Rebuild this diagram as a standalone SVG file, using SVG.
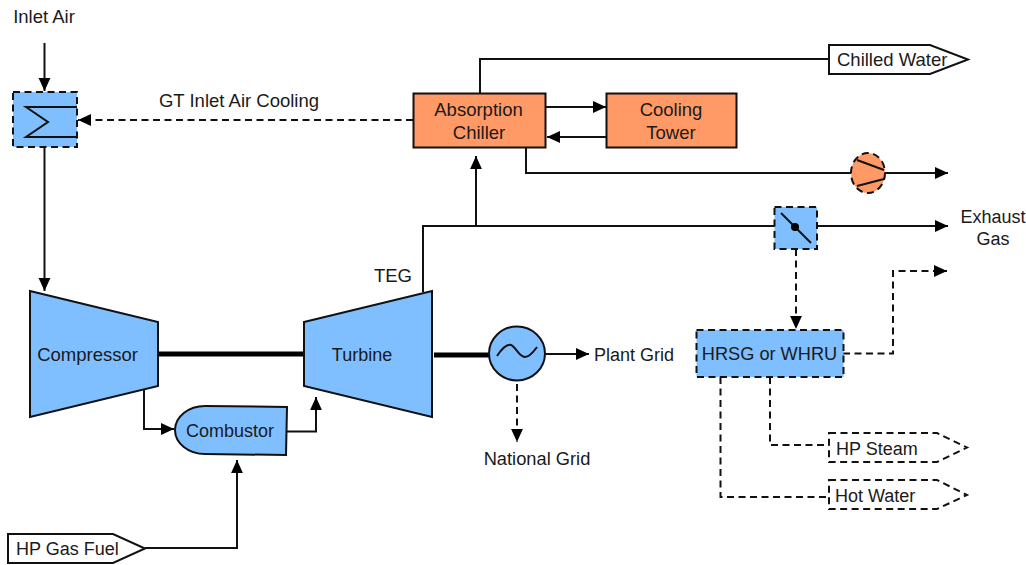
<svg xmlns="http://www.w3.org/2000/svg" width="1026" height="565" viewBox="0 0 1026 565">
<style>
text{font-family:"Liberation Sans",Arial,sans-serif;font-size:18px;fill:#1a1a1a;text-anchor:middle}
.s{text-anchor:start}
text.g{font-size:18.500px}
.b{fill:#7fbfff;stroke:#111;stroke-width:2}
.o{fill:#ff9966;stroke:#111;stroke-width:2}
.w{fill:#fff;stroke:#111;stroke-width:2}
.d{stroke-dasharray:7 4.500}
.l{fill:none;stroke:#111;stroke-width:2}
.m{fill:none;stroke:#111;stroke-width:2;marker-end:url(#a)}
.sh{fill:none;stroke:#000;stroke-width:5}
</style>
<defs><marker id="a" markerUnits="userSpaceOnUse" markerWidth="13" markerHeight="13" viewBox="0 0 11 10" refX="11" refY="5" orient="auto"><path d="M0 0L11 5L0 10Z" fill="#000"/></marker></defs>
<rect width="1026" height="565" fill="#fff"/>
<g id="connectors">
<path class="m" d="M44.500 43V91"/>
<path class="m" d="M44.500 148V291"/>
<path class="m d" d="M413 120H78"/>
<path class="l" d="M480 93V59H829"/>
<path class="m" d="M546 107H606"/>
<path class="m" d="M606 137H547"/>
<path class="m" d="M526 148V173H948"/>
<path class="m" d="M423 292V226H948"/>
<path class="m" d="M476 226V156"/>
<path class="m d" d="M796 249V329"/>
<path class="m d" d="M843 353.500H893V271H947"/>
<path class="l d" d="M770 377V445H829"/>
<path class="l d" d="M720.500 377V497H829"/>
<path class="sh" d="M159 354H304"/>
<path class="sh" d="M434 355H490"/>
<path class="m" d="M545 354H589"/>
<path class="m d" d="M517 384V442"/>
<path class="m" d="M144 390V429H174"/>
<path class="m" d="M287 431.500H316V397"/>
<path class="m" d="M145 548H237V460"/>
</g>
<g id="inlet-air"><text class="g" x="44" y="23">Inlet Air</text></g>
<g id="cooling-label"><text class="g" x="239" y="107">GT Inlet Air Cooling</text></g>
<g id="inlet-cooler"><rect class="b d" x="13" y="92" width="64" height="55"/><path class="l" d="M77 107H26L48 122L26 137H77"/></g>
<g id="chiller"><rect class="o" x="413.500" y="93.500" width="132" height="54"/><text class="g" x="478.500" y="116">Absorption</text><text class="g" x="479" y="139">Chiller</text></g>
<g id="tower"><rect class="o" x="606.500" y="93.500" width="130" height="54"/><text class="g" x="671" y="116">Cooling</text><text class="g" x="671" y="139">Tower</text></g>
<g id="chilled-water"><path class="w" d="M829 45H930L968 59.500L930 74H829Z"/><text class="s g" x="837" y="66">Chilled Water</text></g>
<g id="pump"><ellipse class="o d" cx="868" cy="173" rx="17" ry="20"/><path class="l" d="M857 160L884 170M857 186L884 179"/></g>
<g id="damper"><rect class="b d" x="774.500" y="207" width="42.500" height="42"/><path class="l" d="M781 213L811 243"/><circle cx="795" cy="227" r="4" fill="#000"/></g>
<g id="exhaust"><text x="993" y="223">Exhaust</text><text x="993" y="245">Gas</text></g>
<g id="compressor"><path class="b" d="M30 291L158 322V386L30 417Z"/><text class="g" x="87.500" y="361">Compressor</text></g>
<g id="turbine"><path class="b" d="M304 322L432 291V417L304 386Z"/><text x="362" y="361">Turbine</text></g>
<g id="teg"><text class="g" x="393" y="282">TEG</text></g>
<g id="combustor"><path class="b" d="M287 407L205 406A30 24 0 0 0 205 454L286 455Z"/><text x="230" y="437">Combustor</text></g>
<g id="generator"><ellipse class="b" cx="517" cy="353.500" rx="28" ry="27"/><path class="l" d="M497 356C503 347 507 344 511 345C516 347 519 357 525 357C530 357 534 351 537 347"/></g>
<g id="plant-grid"><text class="s" x="594" y="361">Plant Grid</text></g>
<g id="national-grid"><text style="font-size:18.300px" x="537" y="465">National Grid</text></g>
<g id="hrsg"><rect class="b d" x="696.500" y="330" width="147" height="47"/><text style="font-size:18.200px" x="769.500" y="360">HRSG or WHRU</text></g>
<g id="hp-steam"><path class="w d" d="M829 433H937L967 447.500L937 462H829Z"/><text class="s" x="836" y="455">HP Steam</text></g>
<g id="hot-water"><path class="w d" d="M829 480H937L967 495L937 509H829Z"/><text class="s" x="835" y="502">Hot Water</text></g>
<g id="fuel"><path class="w" d="M8 534H113L145 548.500L113 563H8Z"/><text class="s" x="16" y="555">HP Gas Fuel</text></g>
</svg>
